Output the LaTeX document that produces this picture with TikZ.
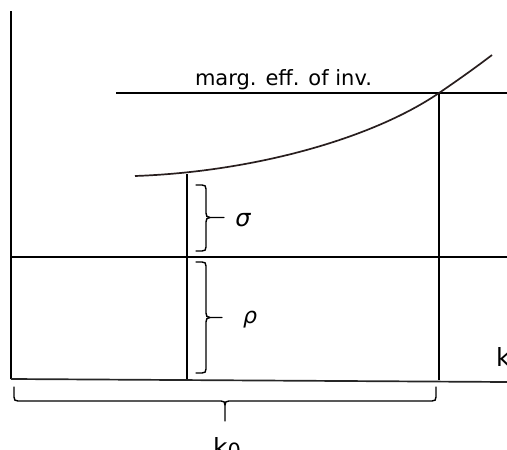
\documentclass[tikz,border=0pt]{standalone}
\usepackage{fontspec}
\setmainfont{DejaVu Sans}
\begin{document}
\begin{tikzpicture}[x=1pt,y=-1pt,
  axis/.style={line width=2.2pt,black},
  guide/.style={line width=2.2pt,black},
  curveline/.style={line width=1.7pt,color={rgb,255:red,40;green,30;blue,30}},
  bracel/.style={line width=1.4pt,black,line cap=round},
  lbl/.style={inner sep=0pt}]
\useasboundingbox (0,0) rectangle (507,450);
% coordinates
\coordinate (ytop) at (11,11);
\coordinate (orig) at (11,379);
\coordinate (xend) at (507,382);
\coordinate (mL) at (116,93);
\coordinate (mR) at (507,93);
\coordinate (hL) at (11,257);
\coordinate (hR) at (507,257);
\coordinate (v1t) at (187,174);
\coordinate (v1b) at (187,379);
\coordinate (v2t) at (439,93);
\coordinate (v2b) at (439,380);
\coordinate (cs) at (135,176);
\coordinate (ce) at (492,55);
% axes
\draw[axis] (ytop) -- (orig);
\draw[line width=1.7pt,black!85] (orig) -- (xend);
% lines
\draw[guide] (mL) -- (mR);
\draw[guide] (hL) -- (hR);
\draw[guide] (v1t) -- (v1b);
\draw[guide] (v2t) -- (v2b);
% curve
\draw[curveline] (cs) .. controls (250,172) and (370,140) .. (v2t) .. controls (457,80.7) and (475,68) .. (ce);
% sigma brace
\draw[bracel] (196,185) -- (202,185) .. controls (205,185) and (206,186) .. (206,189) -- (206,213) .. controls (206,216) and (207,217.5) .. (210,217.5) -- (224,217.5);
\draw[bracel] (210,217.5) .. controls (207,217.5) and (206,219) .. (206,222) -- (206,247) .. controls (206,250) and (205,251) .. (202,251) -- (196,251);
% rho brace
\draw[bracel] (196,262) -- (202,262) .. controls (205,262) and (206,263) .. (206,266) -- (206,313) .. controls (206,316) and (207,317.5) .. (210,317.5) -- (222,317.5);
\draw[bracel] (210,317.5) .. controls (207,317.5) and (206,319) .. (206,322) -- (206,369) .. controls (206,372) and (205,373) .. (202,373) -- (196,373);
% bottom brace
\draw[bracel] (14,387) -- (14,397) .. controls (14,400) and (15,401) .. (18,401) -- (221,401) .. controls (224,401) and (225,402) .. (225,405) -- (225,421);
\draw[bracel] (225,405) .. controls (225,402) and (226,401) .. (229,401) -- (432,401) .. controls (435,401) and (436,400) .. (436,397) -- (436,387);
% labels
\node[lbl,anchor=base,font=\fontsize{21}{21}\selectfont] (marg) at (283.5,85) {marg. eff. of inv.};
\node[lbl,font=\fontsize{24}{24}\selectfont\itshape] (sig) at (243,220) {σ};
\node[lbl,font=\fontsize{22}{22}\selectfont\itshape] (rho) at (250,320) {ρ};
\node[lbl,anchor=base west,font=\fontsize{25}{25}\selectfont] (k) at (496,366.5) {k};
\node[lbl,anchor=base west,font=\fontsize{25}{25}\selectfont] (k0) at (213,456) {k\raisebox{-2pt}{\fontsize{21}{21}\selectfont 0}};
\end{tikzpicture}
\end{document}
